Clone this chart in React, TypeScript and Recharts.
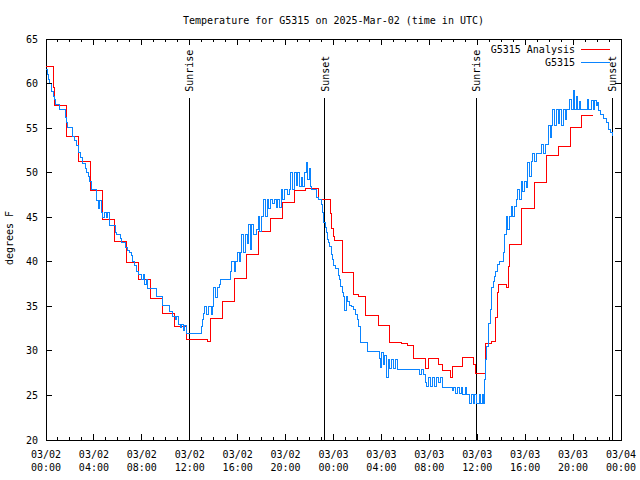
import React from 'react';
import { LineChart, Line, XAxis, YAxis, ReferenceLine, ReferenceArea } from 'recharts';

// ---------- data ----------
const TITLE = 'Temperature for G5315 on 2025-Mar-02 (time in UTC)';
const Y_LABEL = 'degrees F';
const SERIES_NAMES = ['G5315 Analysis', 'G5315'];
const SERIES_COLORS = ['#ff0000', '#0a84ff'];

const xMajorHours = [0, 4, 8, 12, 16, 20, 24, 28, 32, 36, 40, 44, 48];
const xDateLabels = ['03/02', '03/02', '03/02', '03/02', '03/02', '03/02', '03/03', '03/03', '03/03', '03/03', '03/03', '03/03', '03/04'];
const xTimeLabels = ['00:00', '04:00', '08:00', '12:00', '16:00', '20:00', '00:00', '04:00', '08:00', '12:00', '16:00', '20:00', '00:00'];
const xAllHours = Array.from({ length: 49 }, (_, i) => i);
const yTicks = [20, 25, 30, 35, 40, 45, 50, 55, 60, 65];

const sunEvents: { t: number; label: string }[] = [
  { t: 11.94, label: 'Sunrise' },
  { t: 23.29, label: 'Sunset' },
  { t: 35.9, label: 'Sunrise' },
  { t: 47.25, label: 'Sunset' },
];

// hours since 03/02 00:00 UTC, deg F
const analysisSteps: [number, number][] = [
  [0, 61.9], [0.6, 59.6], [0.72, 57.5], [1.67, 54.1], [2.72, 51.3], [3.74, 48.05], [4.74, 44.7],
  [5.74, 42.3], [6.7, 39.9], [7.7, 38.0], [8.7, 35.9], [9.7, 34.25], [10.7, 32.7], [11.7, 31.3],
  [13.5, 31.1], [13.72, 33.6], [14.7, 35.5], [15.72, 38.1], [16.72, 40.8], [17.75, 43.4],
  [18.73, 44.9], [19.73, 46.7], [20.78, 48.0], [21.66, 48.2], [22.72, 47.0], [23.75, 45.4],
  [23.87, 43.75], [23.98, 42.8], [24.08, 42.35], [24.72, 38.75], [25.7, 36.3], [26.1, 36.1],
  [26.67, 33.95], [27.73, 32.9], [28.7, 30.9], [29.7, 30.8], [30.2, 30.6], [30.66, 29.2],
  [31.72, 28.0], [31.9, 29.1], [32.75, 28.5], [33.1, 27.8], [33.78, 27.0], [33.95, 28.3],
  [34.75, 29.3], [35.7, 28.5], [35.85, 27.5], [36.65, 30.8], [37.15, 31.0], [37.56, 33.7],
  [37.68, 36.5], [37.75, 37.4], [38.4, 37.1], [38.62, 39.5], [38.7, 41.9], [39.66, 45.95],
  [40.75, 48.9], [41.8, 51.9], [42.75, 52.9], [43.8, 55.06], [44.7, 56.45], [45.7, 56.45],
];

const stationNight1: [number, number][] = [
  [0, 61.6], [0.1, 61.0], [0.19, 60.5], [0.3, 60.0], [0.42, 59.6], [0.5, 59.1], [0.61, 58.6],
  [0.72, 58.2], [0.83, 57.7], [1.11, 57.1], [1.59, 56.2], [1.7, 55.6], [1.81, 55.1], [2.23, 54.1],
  [2.4, 53.6], [2.56, 53.0], [2.7, 52.3], [2.84, 51.7], [3.06, 51.05], [3.3, 50.5], [3.4, 50.0],
  [3.53, 49.6], [3.65, 49.0], [3.76, 48.5], [3.81, 48.1], [4.23, 46.9], [4.35, 46.0], [4.5, 46.9],
  [4.6, 45.5], [4.75, 45.0], [4.9, 45.5], [5.05, 45.0], [5.15, 45.5], [5.26, 44.1], [5.76, 43.3],
  [5.85, 43.1], [6.2, 42.6], [6.32, 42.2], [6.6, 41.6], [6.79, 41.3], [6.95, 41.0], [7.1, 40.7],
  [7.24, 40.0], [7.4, 39.6], [7.57, 38.9], [7.75, 38.6], [7.99, 38.0], [8.12, 38.6], [8.25, 37.4],
  [8.38, 38.0], [8.48, 37.0], [9.24, 36.05], [9.74, 35.1], [10.35, 34.4], [10.6, 33.9],
  [10.77, 33.5], [10.92, 33.9], [11.05, 33.0], [11.2, 32.6], [11.33, 33.0], [11.45, 32.3],
  [11.6, 32.8], [11.74, 32.0],
];

const stationDay1: [number, number][] = [
  [12.94, 32.75], [13.05, 33.5], [13.15, 34.25], [13.27, 35.0], [13.42, 34.1], [13.6, 35.0],
  [13.78, 34.1], [13.9, 35.0], [14.0, 37.1], [14.15, 36.0], [14.32, 37.1], [14.45, 37.4],
  [14.6, 38.0], [15.4, 38.9], [15.52, 40.05], [15.7, 38.9], [15.85, 40.05], [15.95, 41.0],
  [16.12, 40.05], [16.25, 41.0], [16.35, 43.1], [16.5, 41.0], [16.65, 43.1], [16.8, 42.0],
  [16.9, 44.2], [17.05, 41.4], [17.18, 44.2], [17.35, 43.1], [17.55, 43.6], [17.7, 45.1],
  [17.85, 43.4], [18.0, 45.1], [18.14, 47.0], [18.3, 45.1], [18.45, 47.0], [18.6, 46.0],
  [18.75, 47.0], [18.9, 46.5], [19.05, 47.0], [19.2, 46.1], [19.35, 47.0], [19.5, 46.1],
  [19.62, 48.1], [19.78, 47.0], [19.95, 48.1], [20.12, 47.5], [20.3, 48.1], [20.45, 50.0],
  [20.6, 48.1], [20.72, 50.0], [20.88, 48.6], [21.0, 50.0], [21.15, 48.5], [21.3, 49.5],
  [21.45, 48.5], [21.58, 50.0], [21.72, 51.1], [21.85, 49.25], [21.98, 50.5], [22.1, 48.5],
  [22.2, 48.1], [22.58, 47.2], [22.75, 47.0], [22.97, 46.4], [23.08, 45.5], [23.2, 44.4],
];

const stationNight2: [number, number][] = [
  [23.3, 43.8], [23.4, 43.3], [23.47, 42.5], [23.55, 42.2], [23.7, 41.7], [23.8, 40.8],
  [23.89, 40.2], [24.0, 39.6], [24.2, 39.2], [24.39, 38.5], [24.5, 38.0], [24.6, 37.2],
  [24.72, 36.6], [24.85, 36.1], [24.95, 34.5], [25.08, 36.1], [25.2, 35.5], [25.35, 35.1],
  [25.5, 35.0], [25.7, 34.6], [25.84, 34.1], [26.0, 33.5], [26.12, 32.7], [26.25, 30.95],
  [26.85, 29.9], [27.8, 29.2], [27.9, 28.1], [28.02, 29.8], [28.15, 28.5], [28.28, 29.5],
  [28.4, 27.0], [28.55, 29.0], [28.7, 28.0], [28.85, 29.0], [29.0, 28.0], [29.15, 29.0],
  [29.35, 27.95], [31.2, 27.4], [31.35, 27.95], [31.5, 27.3], [31.7, 26.5], [31.8, 26.0],
  [31.95, 27.0], [32.1, 26.0], [32.25, 27.0], [32.45, 26.0], [32.6, 27.0], [32.8, 26.5],
  [32.95, 27.0], [33.1, 25.9], [33.9, 25.5], [34.05, 25.9], [34.2, 25.2], [34.35, 25.9],
  [34.55, 25.2], [34.7, 25.9], [34.8, 25.1], [35.0, 25.9], [35.12, 25.1], [35.33, 24.05],
  [35.48, 25.1], [35.65, 24.05], [35.8, 25.1], [35.95, 24.05], [36.15, 25.1], [36.3, 24.1],
  [36.45, 25.1], [36.52, 24.1],
];

const stationDay2: [number, number][] = [
  [36.6, 26.75], [36.7, 29.0], [36.8, 30.5], [36.9, 31.6], [36.98, 33.1], [37.07, 34.6],
  [37.15, 36.1], [37.22, 37.1], [37.35, 37.8], [37.45, 38.4], [37.55, 38.9], [37.68, 39.7],
  [37.85, 40.05], [38.2, 41.0], [38.3, 43.1], [38.4, 45.1], [38.55, 43.6], [38.7, 45.1],
  [38.82, 46.2], [38.95, 45.1], [39.1, 46.2], [39.24, 47.0], [39.38, 48.1], [39.52, 47.0],
  [39.66, 49.05], [39.8, 47.9], [39.95, 49.05], [40.1, 48.3], [40.2, 51.1], [40.35, 49.6],
  [40.5, 51.2], [40.65, 52.1], [40.8, 51.2], [40.95, 52.1], [41.4, 53.2], [41.55, 52.1],
  [41.7, 53.2], [41.95, 55.25], [42.1, 53.95], [42.22, 55.25], [42.3, 57.1], [42.45, 55.25],
  [42.6, 57.1], [42.75, 55.5], [42.9, 57.1], [43.05, 55.3], [43.2, 57.1], [43.35, 56.0],
  [43.45, 57.1], [43.7, 58.25], [43.85, 57.1], [44.0, 59.2], [44.12, 57.1], [44.25, 58.6],
  [44.4, 57.1], [44.5, 58.0], [44.6, 57.1], [45.2, 58.2], [45.32, 57.1], [45.55, 58.1],
  [45.7, 57.1], [45.8, 58.1], [45.95, 57.5], [46.05, 57.9], [46.15, 57.0], [46.3, 56.5],
  [46.5, 56.1], [46.8, 55.6], [46.95, 54.9], [47.1, 54.5], [47.3, 54.1],
];

const analysisData = analysisSteps.map(([t, v]) => ({ t, v }));
const stationData = [...stationNight1, ...stationDay1, ...stationNight2, ...stationDay2].map(([t, v]) => ({ t, v }));

// ---------- layout ----------
const W = 640;
const H = 480;
const Y_AXIS_W = 46;
const X_AXIS_H = 40;
const MARGIN = { top: 39, right: 19, bottom: 0, left: 0 };
const PLOT_W = W - Y_AXIS_W - MARGIN.right;
const PLOT_H = H - MARGIN.top - X_AXIS_H;
const FONT = '"DejaVu Sans Mono", "Liberation Mono", monospace';
const FS = 10;
const SUN_LINE_TOP = 58.4;

const XTick = (props: any) => {
  const { x, y, payload } = props;
  const h = payload.value as number;
  const k = xMajorHours.indexOf(h);
  const len = k >= 0 ? 6 : 3;
  return (
    <g>
      <line x1={x} y1={y} x2={x} y2={y - len} stroke="#000" shapeRendering="crispEdges" />
      <line x1={x} y1={y - PLOT_H} x2={x} y2={y - PLOT_H + len} stroke="#000" shapeRendering="crispEdges" />
      {k >= 0 && (
        <text x={x} y={y + 17.5} textAnchor="middle" fontFamily={FONT} fontSize={FS} fill="#000">
          {xDateLabels[k]}
        </text>
      )}
      {k >= 0 && (
        <text x={x} y={y + 30.5} textAnchor="middle" fontFamily={FONT} fontSize={FS} fill="#000">
          {xTimeLabels[k]}
        </text>
      )}
    </g>
  );
};

const YTick = (props: any) => {
  const { x, y, payload } = props;
  return (
    <g>
      <line x1={x} y1={y} x2={x + 6} y2={y} stroke="#000" shapeRendering="crispEdges" />
      <line x1={x + PLOT_W} y1={y} x2={x + PLOT_W - 6} y2={y} stroke="#000" shapeRendering="crispEdges" />
      <text x={x - 8} y={y + 3.5} textAnchor="end" fontFamily={FONT} fontSize={FS} fill="#000">
        {payload.value}
      </text>
    </g>
  );
};

const SunLabel = (props: any) => {
  const { viewBox, text } = props;
  if (!viewBox) return null;
  const x = viewBox.x;
  const y = viewBox.y - 6;
  return (
    <text
      transform={`translate(${x + 4},${y}) rotate(-90)`}
      textAnchor="start"
      fontFamily={FONT}
      fontSize={FS}
      fill="#000"
    >
      {text}
    </text>
  );
};

export default function App() {
  return (
    <div style={{ position: 'absolute', left: 0, top: 0, width: W, height: H, background: '#fff' }}>
      <style>{`.recharts-line-curve{shape-rendering:crispEdges}`}</style>
      <LineChart width={W} height={H} margin={MARGIN}>
        <XAxis
          dataKey="t"
          type="number"
          domain={[0, 48]}
          ticks={xAllHours}
          interval={0}
          height={X_AXIS_H}
          tickSize={0}
          tickMargin={0}
          tickLine={false}
          axisLine={false}
          tick={<XTick />}
          allowDataOverflow
        />
        <YAxis
          type="number"
          domain={[20, 65]}
          ticks={yTicks}
          interval={0}
          width={Y_AXIS_W}
          tickSize={0}
          tickMargin={0}
          tickLine={false}
          axisLine={false}
          tick={<YTick />}
          allowDataOverflow
        />
        <ReferenceArea x1={0} x2={48} y1={20} y2={65} fill="none" fillOpacity={0} stroke="#000" strokeWidth={1} shapeRendering="crispEdges" />
        {sunEvents.map((s, i) => (
          <ReferenceLine
            key={i}
            segment={[{ x: s.t, y: 20 }, { x: s.t, y: SUN_LINE_TOP }]}
            stroke="#000"
            strokeWidth={1}
            shapeRendering="crispEdges"
            label={<SunLabel text={s.label} />}
          />
        ))}
        <Line
          data={analysisData}
          dataKey="v"
          type="stepAfter"
          stroke={SERIES_COLORS[0]}
          strokeWidth={1}
          dot={false}
          activeDot={false}
          isAnimationActive={false}
          name={SERIES_NAMES[0]}
        />
        <Line
          data={stationData}
          dataKey="v"
          type="stepAfter"
          stroke={SERIES_COLORS[1]}
          strokeWidth={1}
          dot={false}
          activeDot={false}
          isAnimationActive={false}
          name={SERIES_NAMES[1]}
        />
      </LineChart>
      <svg width={W} height={H} style={{ position: 'absolute', left: 0, top: 0, pointerEvents: 'none' }}>
        <text x={Y_AXIS_W + PLOT_W / 2} y={23.5} textAnchor="middle" fontFamily={FONT} fontSize={FS} fill="#000">
          {TITLE}
        </text>
        <text transform="translate(13,238) rotate(-90)" textAnchor="middle" fontFamily={FONT} fontSize={FS} fill="#000">
          {Y_LABEL}
        </text>
        <text x={575} y={53} textAnchor="end" fontFamily={FONT} fontSize={FS} fill="#000">{SERIES_NAMES[0]}</text>
        <line x1={581} y1={49.5} x2={610} y2={49.5} stroke={SERIES_COLORS[0]} strokeWidth={1} />
        <text x={575} y={66} textAnchor="end" fontFamily={FONT} fontSize={FS} fill="#000">{SERIES_NAMES[1]}</text>
        <line x1={581} y1={62.5} x2={610} y2={62.5} stroke={SERIES_COLORS[1]} strokeWidth={1} />
      </svg>
    </div>
  );
}
